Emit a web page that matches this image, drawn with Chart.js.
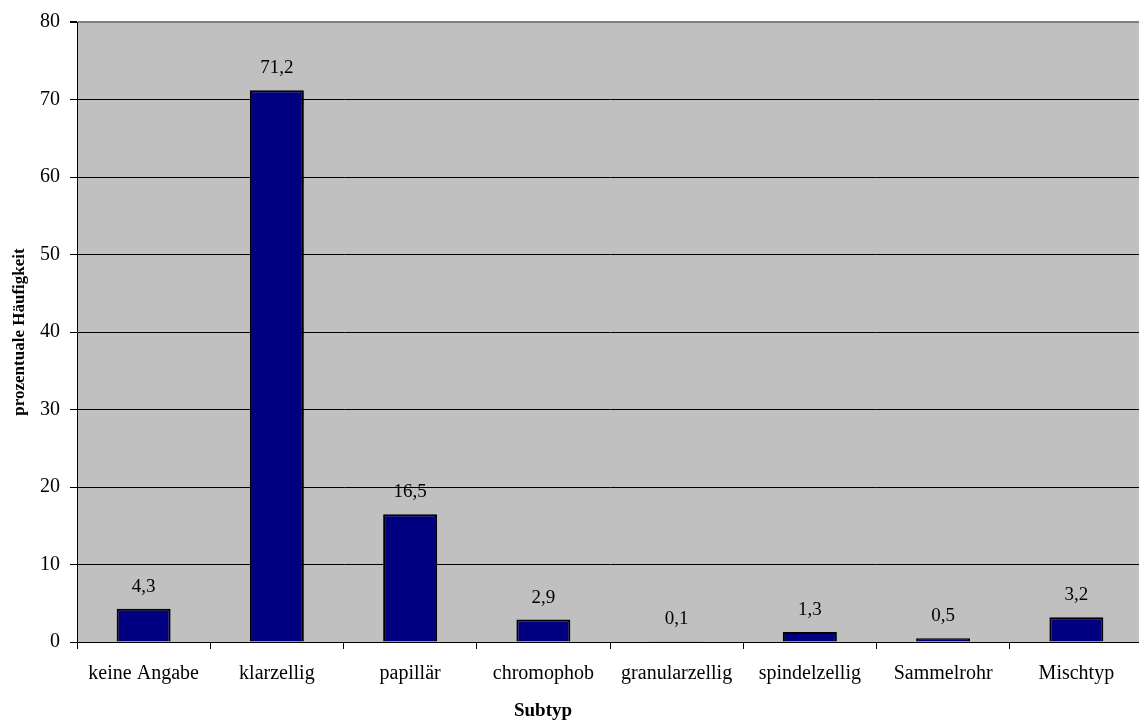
<!DOCTYPE html>
<html>
<head>
<meta charset="utf-8">
<script src="https://cdn.jsdelivr.net/npm/chart.js@4/dist/chart.umd.min.js"></script>
<style>
  html, body { margin: 0; padding: 0; background: #fff; overflow: hidden; }
  #wrap { width: 1143px; height: 722px; position: relative; }
</style>
</head>
<body>
<div id="wrap"><canvas id="chart"></canvas></div>
<script>
// Renal cell carcinoma subtypes, share in percent
const categories = ['keine Angabe', 'klarzellig', 'papillär', 'chromophob', 'granularzellig', 'spindelzellig', 'Sammelrohr', 'Mischtyp'];
const shares = [4.3, 71.2, 16.5, 2.9, 0.1, 1.3, 0.5, 3.2];
const yTicks = [0, 10, 20, 30, 40, 50, 60, 70, 80];

const xTitle = 'Subtyp';
const yTitle = 'prozentuale Häufigkeit';
const SERIF = '"Liberation Serif", "Times New Roman", serif';

// grey plot background plus the value labels over each bar
const plotDecor = {
  id: 'plotDecor',
  beforeDraw(chart) {
    const { ctx, chartArea: a } = chart;
    ctx.save();
    ctx.fillStyle = '#c0c0c0';
    ctx.fillRect(a.left, a.top, a.right - a.left, a.bottom - a.top);
    ctx.restore();
  },
  afterDatasetsDraw(chart) {
    const { ctx } = chart;
    const meta = chart.getDatasetMeta(0);
    ctx.save();
    ctx.font = '19px ' + SERIF;
    ctx.fillStyle = '#000';
    ctx.textAlign = 'center';
    ctx.textBaseline = 'alphabetic';
    meta.data.forEach((bar, i) => {
      const txt = shares[i].toFixed(1).replace('.', ',');
      ctx.fillText(txt, bar.x, bar.y - 17);
    });
    // x axis title
    ctx.font = 'bold 19px ' + SERIF;
    ctx.fillText(xTitle, 543, 716);
    ctx.restore();
  }
};

new Chart(document.getElementById('chart'), {
  type: 'bar',
  data: {
    labels: categories,
    datasets: [{
      data: shares,
      backgroundColor: '#000080',
      borderColor: '#000000',
      borderWidth: 2,
      categoryPercentage: 1.0,
      barPercentage: 0.405
    }]
  },
  options: {
    responsive: true,
    maintainAspectRatio: false,
    animation: false,
    layout: { padding: { top: 20, right: 0, bottom: 0, left: 0 } },
    plugins: {
      legend: { display: false },
      tooltip: { enabled: false }
    },
    scales: {
      x: {
        offset: true,
        grid: {
          offset: true,
          drawOnChartArea: false,
          drawTicks: true,
          tickLength: 7,
          tickColor: '#000',
          color: '#000'
        },
        border: { color: '#000', width: 1 },
        ticks: {
          color: '#000',
          font: { family: SERIF, size: 20 },
          padding: 13,
          maxRotation: 0,
          autoSkip: false
        },
        afterFit(scale) { scale.height = 80; }
      },
      y: {
        min: 0,
        max: 80,
        afterBuildTicks(scale) { scale.ticks = yTicks.map(v => ({ value: v })); },
        grid: {
          color: (c) => (c.tick && c.tick.value === 80 ? '#808080' : '#000'),
          lineWidth: (c) => (c.tick && c.tick.value === 80 ? 2 : 1),
          tickLength: 7,
          tickColor: '#000'
        },
        border: { color: '#000', width: 1 },
        ticks: {
          color: '#000',
          font: { family: SERIF, size: 20 },
          padding: 10
        },
        title: {
          display: true,
          text: yTitle,
          color: '#000',
          font: { family: SERIF, size: 17, weight: 'bold' },
          padding: { top: 9, bottom: 0 }
        },
        afterFit(scale) { scale.width = 77; }
      }
    }
  },
  plugins: [plotDecor]
});
</script>
</body>
</html>
